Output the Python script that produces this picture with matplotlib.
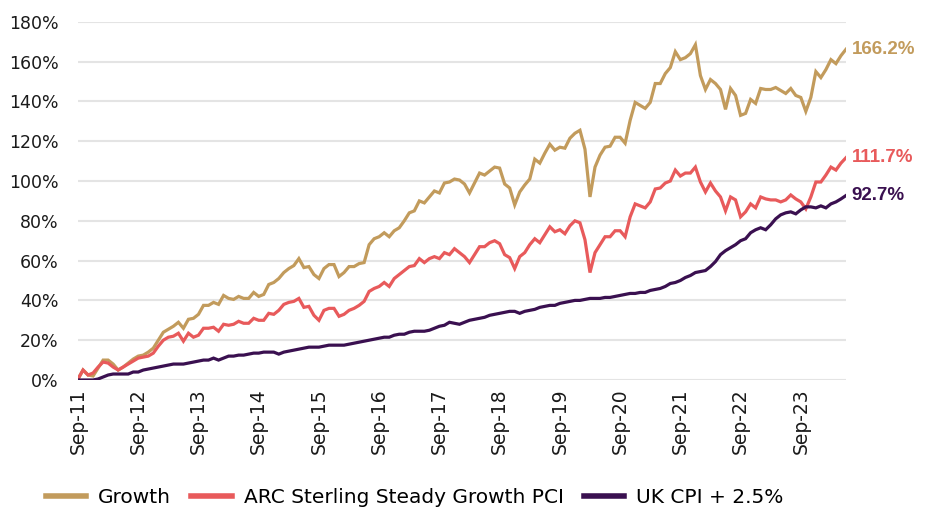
import matplotlib
matplotlib.use("Agg")
import matplotlib.pyplot as plt
import numpy as np

growth = [0.5, 5, 2.5, 2, 6, 10, 10, 8, 5, 6.5, 8.5, 10.5, 12, 12.5, 14, 16, 20, 24, 25.5, 27,
          29, 26, 30.5, 31, 33, 37.5, 37.5, 39, 38, 42.5, 41, 40.5, 42, 41, 41, 44, 42, 43, 48, 49,
          51, 54, 56, 57.5, 61, 56.5, 57, 53, 51, 56, 58, 58, 52, 54, 57, 57, 58.5, 59, 68, 71,
          72, 74, 72, 75, 76.5, 80, 84, 85, 90, 89, 92, 95, 94, 99, 99.5, 101, 100.5, 98.5, 94, 99,
          104, 103, 105, 107, 106.5, 98.5, 96.5, 88, 94.5, 98, 101, 111, 109, 114, 118.5, 115.5, 117, 116.5, 121.5, 124,
          125.5, 116, 92, 107, 113, 117, 117.5, 122, 122, 119, 130.5, 139.5, 138, 136.5, 139.5, 149, 149, 154, 157, 165,
          161, 162, 164, 168.5, 153, 146, 151, 149, 146, 136, 146.5, 143, 133, 134, 141, 139, 146.5, 146, 146, 147,
          145.5, 144, 146.5, 143, 142, 135, 142, 155, 152, 156, 161, 159, 163, 166.2]

arc = [0.5, 5, 2.5, 3.5, 6.5, 9, 8.5, 6.5, 5, 6.5, 8, 9.5, 11, 11.5, 12, 13.5, 17, 20, 21.5, 22,
       23.5, 19.5, 23.5, 21.5, 22.5, 26, 26, 26.5, 24.5, 28, 27.5, 28, 29.5, 28.5, 28.5, 31, 30, 30, 33.5, 33,
       35, 38, 39, 39.5, 41, 36.5, 37, 32.5, 30, 35, 36, 36, 32, 33, 35, 36, 37.5, 39.5, 44.5, 46,
       47, 49, 47, 51, 53, 55, 57, 57.5, 61, 59, 61, 62, 61, 64, 63, 66, 64, 62, 59, 63,
       67, 67, 69, 70, 68.5, 63, 61.5, 56, 62, 64, 68, 71, 69, 73, 77, 74.5, 75.5, 73.5, 77.5, 80,
       79, 70.5, 54, 64, 68, 72, 72, 75, 75, 72, 82, 88.5, 87.5, 86.5, 89.5, 96, 96.5, 99, 100, 105.5,
       102.5, 104, 104, 107, 99.5, 94.5, 99, 95, 92, 85, 92, 90.5, 82, 84.5, 88.5, 86.5, 92, 91, 90.5, 90.5,
       89.5, 90.5, 93, 91, 89.5, 86, 92, 99.5, 99.5, 103, 107, 105.5, 109, 111.7]

cpi = [0, 0, 0, 0, 0.5, 1.5, 2.5, 3, 3, 3, 3, 4, 4, 5, 5.5, 6, 6.5, 7, 7.5, 8,
       8, 8, 8.5, 9, 9.5, 10, 10, 11, 10, 11, 12, 12, 12.5, 12.5, 13, 13.5, 13.5, 14, 14, 14,
       13, 14, 14.5, 15, 15.5, 16, 16.5, 16.5, 16.5, 17, 17.5, 17.5, 17.5, 17.5, 18, 18.5, 19, 19.5, 20, 20.5,
       21, 21.5, 21.5, 22.5, 23, 23, 24, 24.5, 24.5, 24.5, 25, 26, 27, 27.5, 29, 28.5, 28, 29, 30, 30.5,
       31, 31.5, 32.5, 33, 33.5, 34, 34.5, 34.5, 33.5, 34.5, 35, 35.5, 36.5, 37, 37.5, 37.5, 38.5, 39, 39.5, 40,
       40, 40.5, 41, 41, 41, 41.5, 41.5, 42, 42.5, 43, 43.5, 43.5, 44, 44, 45, 45.5, 46, 47, 48.5, 49,
       50, 51.5, 52.5, 54, 54.5, 55, 57, 59.5, 63, 65, 66.5, 68, 70, 71, 74, 75.5, 76.5, 75.5, 78, 81,
       83, 84, 84.5, 83.5, 85.5, 87, 87, 86.5, 87.5, 86.5, 88.5, 89.5, 91, 92.7]

tick_labels = ["Sep-11", "Sep-12", "Sep-13", "Sep-14", "Sep-15", "Sep-16", "Sep-17",
               "Sep-18", "Sep-19", "Sep-20", "Sep-21", "Sep-22", "Sep-23"]
series_names = ["Growth", "ARC Sterling Steady Growth PCI", "UK CPI + 2.5%"]
end_labels = ["166.2%", "111.7%", "92.7%"]

colors = ["#C29B5C", "#E85A5B", "#3A1050"]

fig = plt.figure(figsize=(9.32, 5.08), dpi=100)
ax = fig.add_axes([0.0837, 0.252, 0.824, 0.705])

x = np.arange(len(growth))
for data, c, name in zip([growth, arc, cpi], colors, series_names):
    ax.plot(x, data, color=c, lw=2.3, label=name, solid_joinstyle="miter")

ax.set_xlim(0, len(growth) - 1)
ax.set_ylim(0, 180)
ax.set_yticks(np.arange(0, 181, 20))
ax.set_yticklabels([f"{v}%" for v in range(0, 181, 20)])
ax.set_xticks(np.arange(0, 12 * len(tick_labels), 12))
ax.set_xticklabels(tick_labels, rotation=90)

ax.grid(axis="y", color="#E4E4E4", lw=1.5)
ax.set_axisbelow(True)
for s in ax.spines.values():
    s.set_visible(False)
ax.tick_params(axis="both", length=0, labelsize=12.5, colors="#1a1a1a")
ax.tick_params(axis="x", labelsize=13.5, pad=6)
ax.tick_params(axis="y", pad=14)

for data, c, lab in zip([growth, arc, cpi], colors, end_labels):
    ax.annotate(lab, xy=(x[-1], data[-1]), xytext=(4, 0), textcoords="offset points",
                color=c, fontsize=13.5, fontweight="bold", va="center", ha="left",
                family="Liberation Sans", annotation_clip=False)

handles, labels = ax.get_legend_handles_labels()
fig.legend(handles, labels, loc="center", bbox_to_anchor=(0.445, 0.02), ncol=3,
           frameon=False, fontsize=14.5, handlelength=2.0, columnspacing=1.0,
           handletextpad=0.6)
for lh in fig.legends[0].get_lines():
    lh.set_linewidth(4)

fig.savefig("out.png", dpi=100)
